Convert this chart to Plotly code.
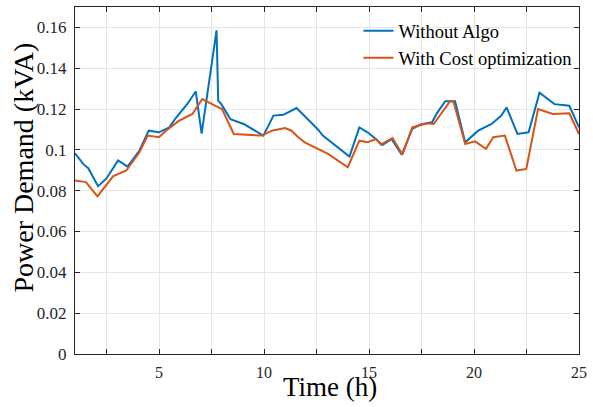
import plotly.graph_objects as go

# Without Algo
t_blue = [1.0, 1.4, 1.63, 2.1, 2.5, 3.05, 3.5, 4.07, 4.51, 5.0, 5.49, 5.8, 6.35, 6.75,
          7.03, 7.74, 7.82, 7.93, 8.17, 8.4, 9.03, 9.5, 9.97, 10.45, 10.92, 11.55,
          12.57, 12.8, 14.07, 14.54, 14.93, 15.33, 15.64, 16.07, 16.56, 17.06, 17.45,
          18.0, 18.24, 18.63, 19.1, 19.58, 20.2, 20.84, 21.3, 21.55, 22.07, 22.6,
          23.12, 23.83, 24.54, 25.0]
v_blue = [0.0983, 0.093, 0.091, 0.0822, 0.086, 0.0948, 0.0918, 0.0997, 0.1094, 0.1086,
          0.111, 0.1156, 0.1225, 0.1286, 0.108, 0.1586, 0.124, 0.123, 0.119, 0.115,
          0.1127, 0.110, 0.107, 0.1168, 0.1172, 0.1205, 0.110, 0.107, 0.0967, 0.111,
          0.1086, 0.1053, 0.1024, 0.1053, 0.0976, 0.1103, 0.1124, 0.1135, 0.118,
          0.1238, 0.1238, 0.1037, 0.1094, 0.1127, 0.1168, 0.1208, 0.1078, 0.1086,
          0.128, 0.1224, 0.1216, 0.111]

# With Cost optimization
t_orange = [1.0, 1.52, 2.07, 2.81, 3.44, 4.07, 4.46, 5.0, 5.33, 5.96, 6.59, 7.06, 7.69,
            8.0, 8.56, 9.19, 9.9, 10.37, 11.0, 11.31, 11.63, 11.94, 13.05, 13.99,
            14.54, 14.93, 15.33, 15.56, 16.12, 16.59, 17.06, 17.77, 18.08, 18.87,
            19.03, 19.58, 20.05, 20.57, 20.92, 21.47, 22.02, 22.49, 23.05, 23.75,
            24.54, 25.0]
v_orange = [0.085, 0.0842, 0.0772, 0.087, 0.0899, 0.0988, 0.107, 0.1062, 0.1094, 0.1143,
            0.1176, 0.1249, 0.1216, 0.12, 0.1078, 0.1075, 0.107, 0.1094, 0.1107, 0.1094,
            0.1062, 0.1037, 0.098, 0.0915, 0.1045, 0.1037, 0.1053, 0.1026, 0.1058,
            0.0977, 0.111, 0.113, 0.1127, 0.124, 0.1233, 0.1029, 0.1042, 0.1005,
            0.1062, 0.107, 0.0899, 0.0907, 0.12, 0.1176, 0.1179, 0.1078]

x_ticks = [2.5, 5, 7.5, 10, 12.5, 15, 17.5, 20, 22.5, 25]
x_labels = ["", "5", "", "10", "", "15", "", "20", "", "25"]
y_ticks = [0, 0.02, 0.04, 0.06, 0.08, 0.1, 0.12, 0.14, 0.16]
y_labels = ["0", "0.02", "0.04", "0.06", "0.08", "0.1", "0.12", "0.14", "0.16"]

FONT = "Liberation Serif"
AX = "#262626"

fig = go.Figure()
fig.add_trace(go.Scatter(x=t_blue, y=v_blue, mode="lines", name="Without Algo",
                         line=dict(color="#0072BD", width=2)))
fig.add_trace(go.Scatter(x=t_orange, y=v_orange, mode="lines", name="With Cost optimization",
                         line=dict(color="#D95319", width=2)))

fig.update_layout(
    width=593, height=407,
    margin=dict(l=75, r=10, t=6, b=53),
    paper_bgcolor="white", plot_bgcolor="white",
    font=dict(family=FONT, color=AX, size=15),
    showlegend=True,
    legend=dict(x=0.995, y=0.985, xanchor="right", yanchor="top",
                bgcolor="rgba(255,255,255,0)", borderwidth=0,
                font=dict(family=FONT, size=18.5, color="#000000"),
                tracegroupgap=0, itemwidth=30),
    xaxis=dict(range=[1, 25], tickvals=x_ticks, ticktext=x_labels,
               showgrid=True, gridcolor="#e6e6e6", gridwidth=1,
               showline=True, linecolor=AX, linewidth=1, mirror="ticks",
               ticks="inside", ticklen=5, tickcolor=AX,
               tickfont=dict(family=FONT, size=16, color=AX),
               ticklabelstandoff=4, zeroline=False),
    yaxis=dict(range=[0, 0.17], tickvals=y_ticks, ticktext=y_labels,
               showgrid=True, gridcolor="#e6e6e6", gridwidth=1,
               showline=True, linecolor=AX, linewidth=1, mirror="ticks",
               ticks="inside", ticklen=5, tickcolor=AX,
               tickfont=dict(family=FONT, size=17, color=AX),
               ticklabelstandoff=4, zeroline=False),
    annotations=[
        dict(text="Time (h)", xref="paper", yref="paper", x=0.505, y=-0.095,
             xanchor="center", yanchor="middle", showarrow=False,
             font=dict(family=FONT, size=27, color="#000000")),
        dict(text="Power Demand (kVA)", xref="paper", yref="paper", x=-0.104, y=0.536,
             xanchor="center", yanchor="middle", showarrow=False, textangle=-90,
             font=dict(family=FONT, size=28, color="#000000")),
    ],
)

fig.write_html("out.html")
